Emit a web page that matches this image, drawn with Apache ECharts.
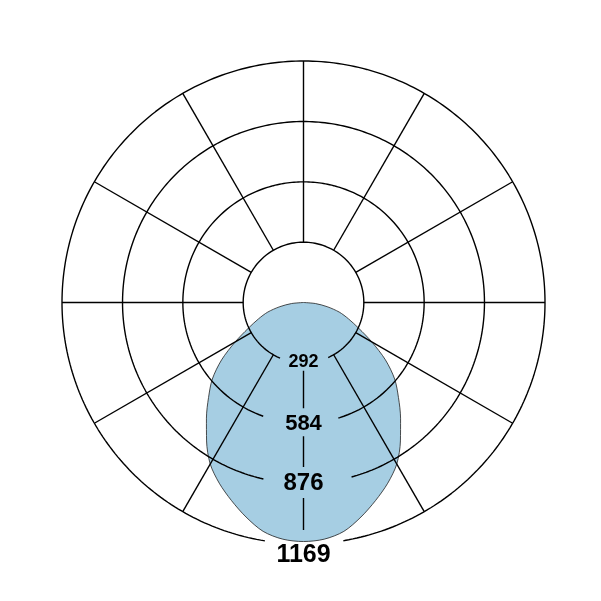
<!DOCTYPE html>
<html>
<head>
<meta charset="utf-8">
<style>
  html, body { margin: 0; padding: 0; background: #fff; }
  #main { width: 601px; height: 601px; }
</style>
<script src="https://cdn.jsdelivr.net/npm/echarts@6/dist/echarts.min.js"></script>
</head>
<body>
<div id="main"></div>
<script>
// luminous intensity (gamma 0 = straight down)
const gammaDeg = [0, 5, 10, 15, 20, 25, 30, 35, 40, 45, 50, 55, 60, 65, 70, 75, 80, 85, 90];
const intensity = [1157, 1150, 1125, 1075, 1020, 965, 903, 818, 731, 650, 576, 484, 382, 295, 232, 179, 116, 58, 0];

const tickValues = [292, 584, 876, 1169];
const tickLabels = ['292', '584', '876', '1169'];
const spokeAngles = [30, 60, 90, 120, 150, 180, 210, 240, 270, 300, 330];

const R_OUTER_PX = 241.5;       // radius of the 1169 circle
const R_MAX = 1169;
const AXIS_MAX = 1250;          // a bit of room so the outer ring is not clipped
const px = p => p * R_MAX / R_OUTER_PX; // pixels -> radius value

var myChart = echarts.init(document.getElementById('main'));

// photometric curve, both halves, 270..360 then 0..90
let curve = [];
for (let i = gammaDeg.length - 1; i > 0; i--) curve.push([intensity[i], 360 - gammaDeg[i]]);
for (let i = 0; i < gammaDeg.length; i++) curve.push([intensity[i], gammaDeg[i]]);

const gridLine = { color: '#000', width: 1.4 };

function lineSeries(data) {
  return {
    type: 'line', coordinateSystem: 'polar', data: data,
    symbol: 'none', silent: true, clip: false, z: 3,
    lineStyle: gridLine
  };
}

function arc(r, from, to) {
  let pts = [];
  for (let a = from; a < to; a += 1) pts.push([r, a]);
  pts.push([r, to]);
  return pts;
}

let series = [{
  type: 'line', coordinateSystem: 'polar', data: curve,
  smooth: 0.3, symbol: 'none', silent: true, z: 2,
  lineStyle: { color: '#222', width: 0.8 },
  areaStyle: { color: '#a6cee3', opacity: 1 }
}];

// circles, with a gap round each label (degrees left / right of the bottom)
const circleGaps = [[22.9, 24.2], [19.5, 16.8], [12.8, 15.4], [9.2, 9.5]];
tickValues.forEach(function (v, i) {
  series.push(lineSeries(arc(v, circleGaps[i][0], 360 - circleGaps[i][1])));
});

// spokes from the inner circle outwards
spokeAngles.forEach(function (a) {
  series.push(lineSeries([[tickValues[0], a], [R_MAX, a]]));
});

// bottom spoke, broken by the labels (px above / below each tick)
const spokeGap = [[0, 8], [15, 13], [16.5, 14.5], [14, 0]];
for (let i = 0; i < tickValues.length - 1; i++) {
  series.push(lineSeries([
    [tickValues[i] + px(spokeGap[i][1]), 0],
    [tickValues[i + 1] - px(spokeGap[i + 1][0]), 0]
  ]));
}

// tick labels
const labelSize = [18, 22, 24, 25];
const labelShift = [-1, 1, 0, 11];
series.push({
  type: 'scatter', coordinateSystem: 'polar', silent: true, clip: false, z: 4,
  symbolSize: 0, itemStyle: { color: '#000', opacity: 1 },
  data: tickValues.map(function (v, i) {
    return {
      value: [v, 0],
      label: {
        show: true, color: '#000', fontSize: labelSize[i],
        offset: [0, labelShift[i]]
      }
    };
  }),
  label: {
    show: true, position: [0, 0], align: 'center', verticalAlign: 'middle',
    fontFamily: 'Liberation Sans', fontWeight: 'bold',
    color: '#000', textBorderWidth: 0, opacity: 1,
    formatter: function (p) { return tickLabels[p.dataIndex]; }
  }
});

myChart.setOption({
  animation: false,
  polar: { center: [303.5, 302.5], radius: R_OUTER_PX * AXIS_MAX / R_MAX },
  angleAxis: {
    type: 'value', min: 0, max: 360, startAngle: 270, clockwise: true,
    axisLine: { show: false }, axisTick: { show: false },
    axisLabel: { show: false }, splitLine: { show: false }
  },
  radiusAxis: {
    type: 'value', min: 0, max: AXIS_MAX,
    axisLine: { show: false }, axisTick: { show: false },
    axisLabel: { show: false }, splitLine: { show: false }
  },
  series: series
});
</script>
</body>
</html>
